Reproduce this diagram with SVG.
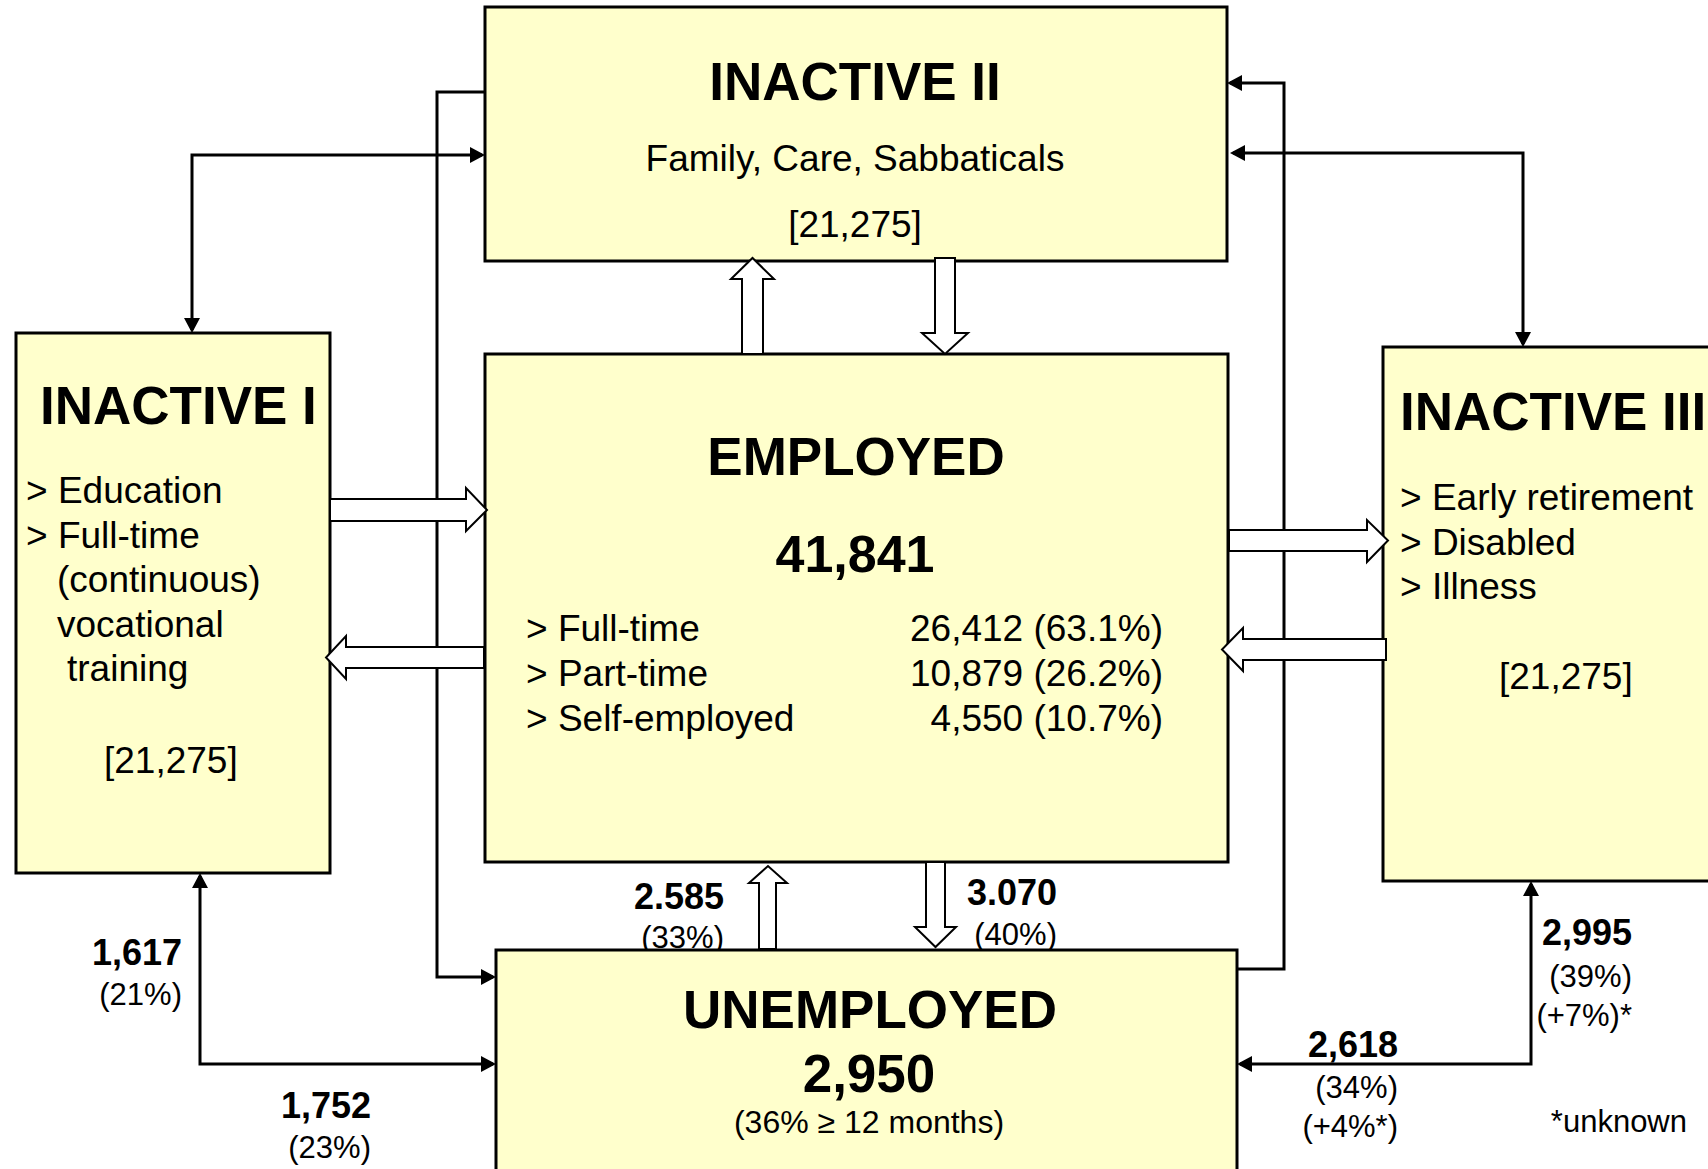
<svg xmlns="http://www.w3.org/2000/svg" width="1708" height="1169" viewBox="0 0 1708 1169">
<style>
text{font-family:"Liberation Sans",Arial,sans-serif;fill:#000}
.box{fill:#FFFFCC;stroke:#000;stroke-width:3}
.t{font-weight:bold;font-size:53px}
.b{font-size:37px}
.c{text-anchor:middle}
.e{text-anchor:end}
.n{font-weight:bold;font-size:36px;text-anchor:end}
.p{font-size:31px;text-anchor:end}
.ln{fill:none;stroke:#000;stroke-width:3}
.blk{fill:#fff;stroke:#000;stroke-width:2;stroke-linejoin:miter}
</style>
<defs>
<marker id="ah" markerUnits="userSpaceOnUse" markerWidth="15" markerHeight="16" refX="12" refY="8" orient="auto-start-reverse" viewBox="0 0 15 16">
<path d="M0,0 L15,8 L0,16 Z" fill="#000"/>
</marker>
</defs>
<rect width="1708" height="1169" fill="#fff"/>

<g id="edge-labels">
<text class="n" x="724" y="909">2.585</text>
<text class="p" x="724" y="948">(33%)</text>
<text class="n" x="1057" y="905">3.070</text>
<text class="p" x="1057" y="945">(40%)</text>
<text class="n" x="182" y="965">1,617</text>
<text class="p" x="182" y="1005">(21%)</text>
<text class="n" x="371" y="1118">1,752</text>
<text class="p" x="371" y="1158">(23%)</text>
<text class="n" x="1398" y="1057">2,618</text>
<text class="p" x="1398" y="1098">(34%)</text>
<text class="p" x="1398" y="1137">(+4%*)</text>
<text class="n" x="1632" y="945">2,995</text>
<text class="p" x="1632" y="987">(39%)</text>
<text class="p" x="1632" y="1026">(+7%)*</text>
<text class="p" x="1687" y="1132">*unknown</text>
</g>

<g id="inactive2">
<rect class="box" x="485" y="7" width="742" height="254"/>
<text class="t c" x="855" y="100">INACTIVE II</text>
<text class="b c" x="855" y="171">Family, Care, Sabbaticals</text>
<text class="b c" x="855" y="237">[21,275]</text>
</g>

<g id="employed">
<rect class="box" x="485" y="354" width="743" height="508"/>
<text class="t c" x="856" y="475">EMPLOYED</text>
<text class="t c" x="855" y="572" style="font-size:52px">41,841</text>
<text class="b" x="526" y="641">&gt; Full-time</text>
<text class="b" x="526" y="686">&gt; Part-time</text>
<text class="b" x="526" y="731">&gt; Self-employed</text>
<text class="b e" x="1163" y="641">26,412 (63.1%)</text>
<text class="b e" x="1163" y="686">10,879 (26.2%)</text>
<text class="b e" x="1163" y="731">4,550 (10.7%)</text>
</g>

<g id="inactive1">
<rect class="box" x="16" y="333" width="314" height="540"/>
<text class="t" x="40" y="424">INACTIVE I</text>
<text class="b" x="26" y="503">&gt; Education</text>
<text class="b" x="26" y="548">&gt; Full-time</text>
<text class="b" x="57" y="592">(continuous)</text>
<text class="b" x="57" y="637">vocational</text>
<text class="b" x="67" y="681">training</text>
<text class="b" x="104" y="773">[21,275]</text>
</g>

<g id="inactive3">
<rect class="box" x="1383" y="347" width="345" height="534"/>
<text class="t" x="1400" y="430">INACTIVE III</text>
<text class="b" x="1400" y="510">&gt; Early retirement</text>
<text class="b" x="1400" y="555">&gt; Disabled</text>
<text class="b" x="1400" y="599">&gt; Illness</text>
<text class="b" x="1499" y="689">[21,275]</text>
</g>

<g id="unemployed">
<rect class="box" x="496" y="950" width="741" height="240"/>
<text class="t c" x="870" y="1028">UNEMPLOYED</text>
<text class="t c" x="869" y="1092">2,950</text>
<text class="c" x="869" y="1133" style="font-size:32px">(36% ≥ 12 months)</text>
</g>

<g id="connectors">
<path class="ln" d="M192,330 L192,155 L482,155" marker-start="url(#ah)" marker-end="url(#ah)"/>
<path class="ln" d="M1233,153 L1523,153 L1523,344" marker-start="url(#ah)" marker-end="url(#ah)"/>
<path class="ln" d="M485,92 L437,92 L437,977 L493,977" marker-end="url(#ah)"/>
<path class="ln" d="M1237,969 L1284,969 L1284,83 L1230,83" marker-end="url(#ah)"/>
<path class="ln" d="M200,876 L200,1064 L493,1064" marker-start="url(#ah)" marker-end="url(#ah)"/>
<path class="ln" d="M1531,884 L1531,1064 L1240,1064" marker-start="url(#ah)" marker-end="url(#ah)"/>
<polygon class="blk" points="742,354 742,279 731,279 752.5,258 774,279 763,279 763,354"/>
<polygon class="blk" points="935,258 955,258 955,333 968,333 945,354 922,333 935,333"/>
<polygon class="blk" points="330,499 466,499 466,488 487,510 466,531 466,521 330,521"/>
<polygon class="blk" points="484,647 346,647 346,636 326,657.5 346,679 346,668 484,668"/>
<polygon class="blk" points="1229,530 1367,530 1367,520 1388,540.5 1367,562 1367,551 1229,551"/>
<polygon class="blk" points="1386,639 1243,639 1243,628 1222,649.5 1243,671 1243,660 1386,660"/>
<polygon class="blk" points="926,862 945,862 945,927 956,927 935.5,947 915,927 926,927"/>
<polygon class="blk" points="759,949 759,883 749,883 768,866 787,883 776,883 776,949"/>
</g>
</svg>
